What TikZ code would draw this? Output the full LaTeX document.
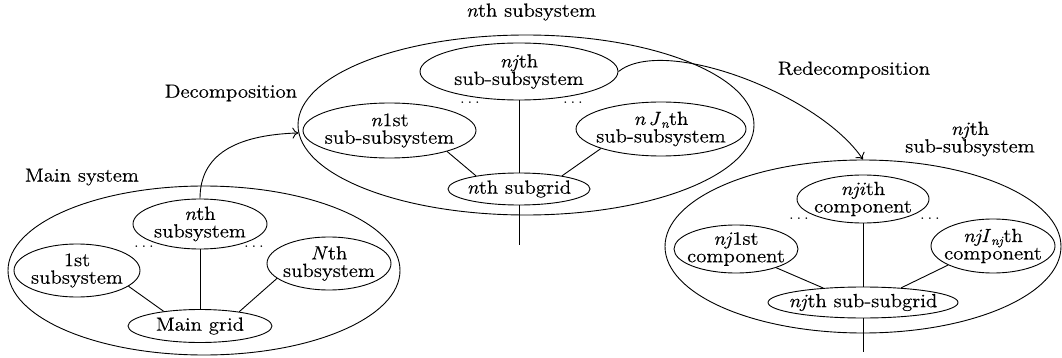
\documentclass[tikz,border=0pt]{standalone}
\usepackage{fontspec}
\setmainfont{lmroman12-regular.otf}[ItalicFont=lmroman12-italic.otf, FakeStretch=1.1, FakeBold=0.5]
\usetikzlibrary{shapes.geometric, arrows.meta}

\tikzset{
  txt/.style={align=center, font=\fontsize{19}{17.5}\selectfont, inner sep=0pt},
  oval/.style={draw, ellipse, inner sep=0pt, line width=0.9pt},
  wire/.style={line width=0.9pt},
  flow/.style={line width=0.9pt, -{To[length=6pt,width=11pt]}},
  dotsnode/.style={txt},
}
\newcommand{\nvar}{\textit{n}}
\newcommand{\subidx}[1]{\raisebox{-0.35ex}[0pt][0pt]{\fontsize{12.5}{12.5}\selectfont\textit{#1}}}
\newcommand{\gap}{$\ldots$}

\begin{document}
\begin{tikzpicture}[x=1pt, y=-1pt]
\useasboundingbox (0,0) rectangle (1062,358);

% ---------------- main system ----------------
\node[txt] (mainlbl) at (82,177) {Main system};
\node[oval, minimum width=392pt, minimum height=169pt] (mainsys) at (204,270.5) {};
\node[oval, minimum width=126pt, minimum height=53pt,
      label={[txt]center:1st\\subsystem}] (s1) at (77,270.5) {};
\node[oval, minimum width=134pt, minimum height=50pt,
      label={[txt]center:\nvar th\\subsystem}] (sn) at (200,224) {};
\node[oval, minimum width=124pt, minimum height=53pt,
      label={[txt]center:\textit{N}th\\subsystem}] (sN) at (329,263.5) {};
\node[oval, minimum width=144pt, minimum height=33pt,
      label={[txt]center:Main grid}] (mgrid) at (200,326) {};
\node[dotsnode] (md1) at (144,247) {\gap};
\node[dotsnode] (md2) at (254,247) {\gap};

\draw[wire] (sn.south) -- (mgrid.north);
\draw[wire] (s1.-17) -- (mgrid.158);
\draw[wire] (sN.-164) -- (mgrid.20);

% ---------------- nth subsystem ----------------
\node[txt] (nlbl) at (531,12) {\nvar th subsystem};
\node[oval, minimum width=456pt, minimum height=180pt] (nsys) at (526,125) {};
\node[oval, minimum width=198pt, minimum height=57pt,
      label={[txt]center:\textit{nj}th\\sub-subsystem}] (nj) at (519,71.5) {};
\node[oval, minimum width=173pt, minimum height=55pt,
      label={[txt]center:\nvar 1st\\sub-subsystem}] (n1) at (389.5,130.5) {};
\node[oval, minimum width=170pt, minimum height=54pt,
      label={[txt]center:\textit{n\,J}\subidx{n}th\\sub-subsystem}] (nJ) at (661,129) {};
\node[oval, minimum width=142pt, minimum height=32pt,
      label={[txt]center:\nvar th subgrid}] (ngrid) at (519,189) {};
\node[dotsnode] (nd1) at (470,103) {\gap};
\node[dotsnode] (nd2) at (573,103) {\gap};
\coordinate (nout) at (519,245);

\draw[wire] (nj.south) -- (ngrid.north);
\draw[wire] (ngrid.south) -- (nout);
\draw[wire] (n1.-20) -- (ngrid.163);
\draw[wire] (nJ.-162) -- (ngrid.17);

% ---------------- njth sub-subsystem ----------------
\node[txt] (clbl) at (970,139) {\textit{nj}th\\sub-subsystem};
\node[oval, minimum width=396pt, minimum height=173pt] (cs) at (863,246.5) {};
\node[oval, minimum width=132pt, minimum height=48pt,
      label={[txt]center:\textit{nji}th\\component}] (cji) at (863,199) {};
\node[oval, minimum width=124pt, minimum height=48pt,
      label={[txt]center:\textit{nj}1st\\component}] (cj1) at (736,249) {};
\node[oval, minimum width=124pt, minimum height=54pt,
      label={[txt]center:\textit{njI}\subidx{nj}th\\component}] (cjI) at (993,246) {};
\node[oval, minimum width=190pt, minimum height=31pt,
      label={[txt]center:\textit{nj}th sub-subgrid}] (cgrid) at (863,302.5) {};
\node[dotsnode] (cd1) at (799,219) {\gap};
\node[dotsnode] (cd2) at (930,219) {\gap};
\coordinate (cout) at (863,352);

\draw[wire] (cji.south) -- (cgrid.north);
\draw[wire] (cgrid.south) -- (cout);
\draw[wire] (cj1.-25) -- (cgrid.160);
\draw[wire] (cjI.-157) -- (cgrid.21);

% ---------------- decomposition arrows ----------------
\node[txt] (declbl) at (231,93) {Decomposition};
\node[txt] (redeclbl) at (854,70) {Redecomposition};
\draw[flow] (sn.north) .. controls (200,155) and (235,135) .. (nsys.182);
\draw[flow] (nj.east) .. controls (665,35) and (820,95) .. (cs.north);
\end{tikzpicture}
\end{document}
